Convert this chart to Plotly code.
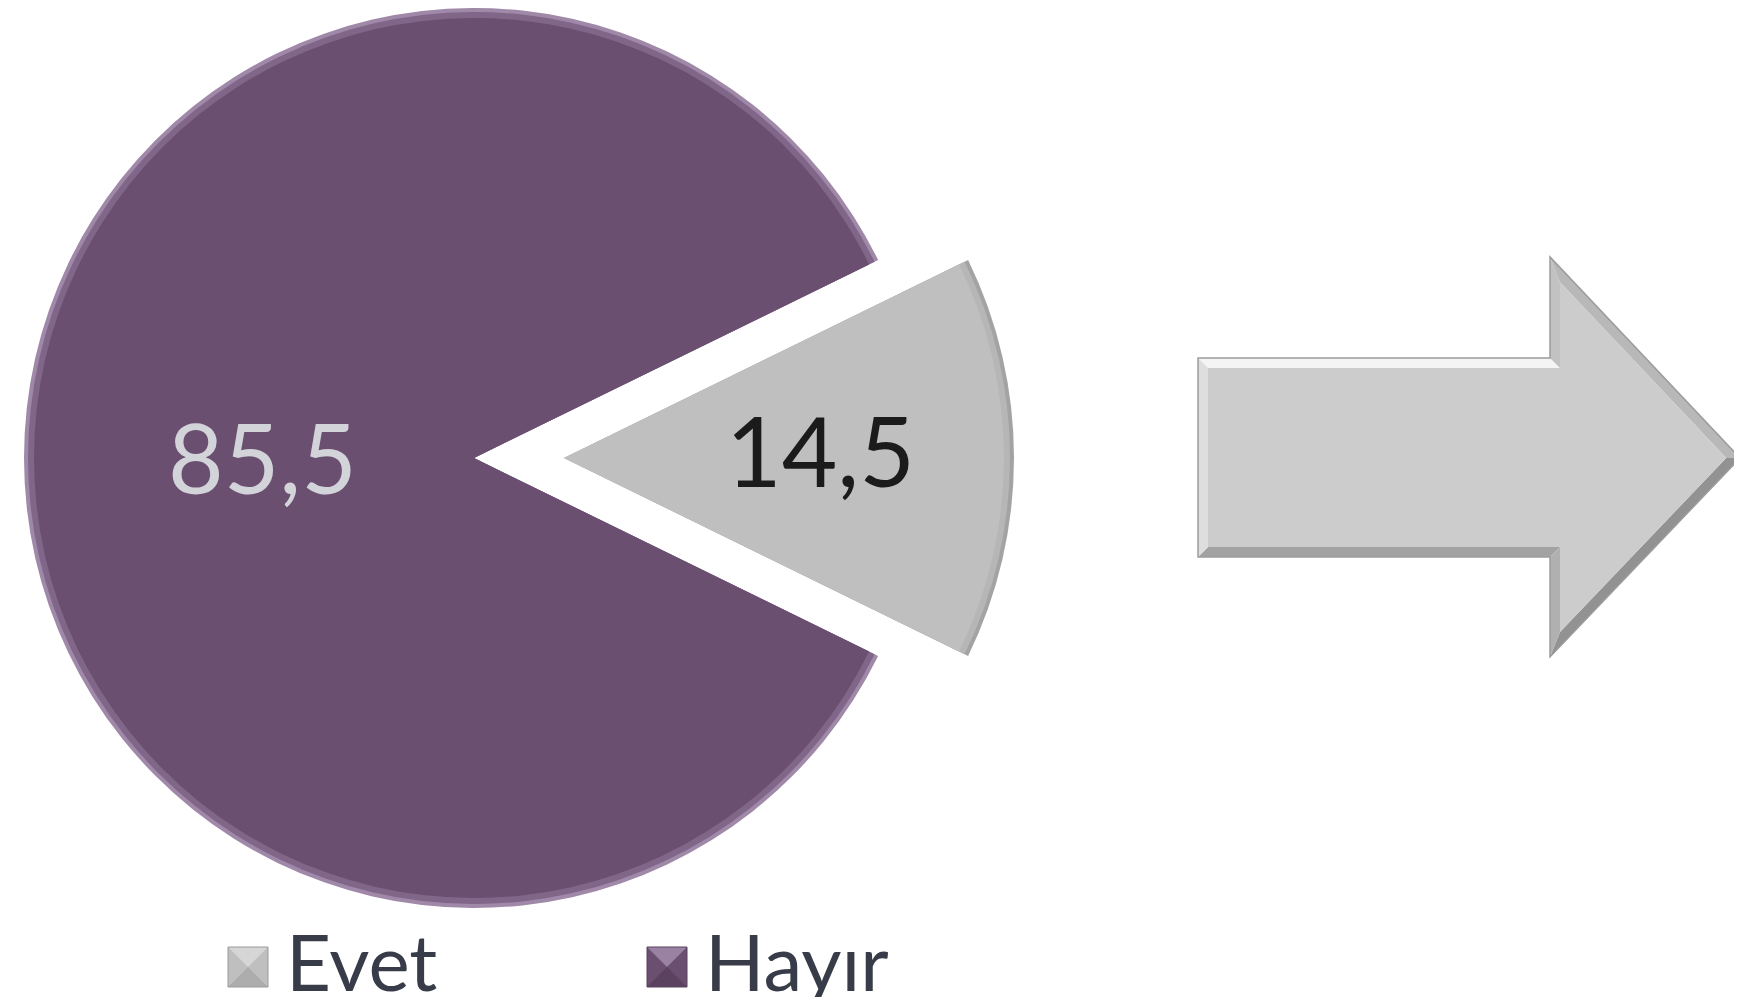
import math
import numpy as np
import plotly.graph_objects as go

# ---------------- data ----------------
categories = ["Evet", "Hayır"]
values = [14.5, 85.5]
slice_colors = ["#bfbfbf", "#6a4f70"]
rim_colors = [["#a3a3a3", "#b6b6b6"], ["#a088a9", "#806688"]]
label_colors = ["#1b1b1b", "#d3d3da"]

# ---------------- geometry / style (screen pixels) ----------------
W, H = 1742, 1005          # browser window
OFF = 8                    # body margin of the html page
FW, FH = W - 2 * OFF, H - 2 * OFF
R = 450                    # pie radius
CX, CY = 474, 458          # pie centre
EXPLODE = 90               # pull of the "Evet" slice
LABEL_R = [0.57, 0.47]     # label distance from slice apex (fraction of R)
LABEL_DY = [-8, -2]        # vertical nudge of the labels
FONT = "Lato"

total = sum(values)
rotation = 90 - values[0] / total * 360 / 2


def px(x, y):
    return (x - OFF) / FW, 1 - (y - OFF) / FH


def px_dom(cx, cy, r):
    x0, y1 = px(cx - r, cy - r)
    x1, y0 = px(cx + r, cy + r)
    return dict(x=[x0, x1], y=[y0, y1])


fig = go.Figure()
annotations = []

start = rotation
for i, cat in enumerate(categories):
    frac = values[i] / total
    mid = math.radians(start + frac * 360 / 2)
    start += frac * 360
    pull = EXPLODE if i == 0 else 0
    cx = CX + pull * math.sin(mid)
    cy = CY - pull * math.cos(mid)
    layers = [(0, rim_colors[i][0]), (4, rim_colors[i][1]), (10, slice_colors[i])]
    for shrink, col in layers:
        colors = [col if j == i else "rgba(0,0,0,0)" for j in range(len(values))]
        fig.add_trace(go.Pie(
            labels=categories,
            values=values,
            sort=False,
            direction="clockwise",
            rotation=rotation,
            marker=dict(colors=colors, line=dict(width=0)),
            textinfo="none",
            domain=px_dom(cx, cy, R - shrink),
            showlegend=False,
            hoverinfo="label+value",
        ))
    lx = cx + LABEL_R[i] * R * math.sin(mid)
    ly = cy - LABEL_R[i] * R * math.cos(mid)
    ax, ay = px(lx, ly + LABEL_DY[i])
    annotations.append(dict(
        xref="paper", yref="paper", x=ax, y=ay, xanchor="center", yanchor="middle",
        showarrow=False, text=f"{values[i]:.1f}".replace(".", ","),
        font=dict(family=FONT, size=96, color=label_colors[i]),
    ))

# ---------------- decorative block arrow with bevel ----------------
outer = np.array([(1198, 358), (1550, 358), (1550, 257), (1740, 458),
                  (1550, 657), (1550, 557), (1198, 557)], dtype=float)


def inset(poly, d):
    n = len(poly)
    lines = []
    for k in range(n):
        a, b = poly[k], poly[(k + 1) % n]
        t = (b - a) / np.linalg.norm(b - a)
        nrm = np.array([-t[1], t[0]])
        lines.append((a + nrm * d, t))
    res = []
    for k in range(n):
        p1, t1 = lines[k - 1]
        p2, t2 = lines[k]
        A = np.array([t1, -t2]).T
        s = np.linalg.solve(A, p2 - p1)
        res.append(p1 + t1 * s[0])
    return np.array(res)


inner = inset(outer, 10)
edge_cols = ["#f4f4f4", "#c2c2c2", "#b8b8b8", "#929292", "#b0b0b0", "#a2a2a2", "#dedede"]


def path_of(pts):
    pp = [px(x, y) for x, y in pts]
    return "M " + " L ".join(f"{x:.5f},{y:.5f}" for x, y in pp) + " Z"


shapes = []
n = len(outer)
for k in range(n):
    quad = [outer[k], outer[(k + 1) % n], inner[(k + 1) % n], inner[k]]
    shapes.append(dict(type="path", xref="paper", yref="paper", path=path_of(quad),
                       fillcolor=edge_cols[k], line=dict(width=0), layer="below"))
shapes.append(dict(type="path", xref="paper", yref="paper", path=path_of(inner),
                   fillcolor="#cccccc", line=dict(width=0), layer="below"))
shapes.append(dict(type="path", xref="paper", yref="paper", path=path_of(outer),
                   fillcolor="rgba(0,0,0,0)", line=dict(color="#9c9c9c", width=1.5), layer="below"))

# ---------------- legend (large symbols, drawn manually) ----------------
legend_x = [228, 647]
legend_y = 967
box = 40
legend_cols = [["#d6d6d6", "#adadad"], ["#9a82a3", "#5b4261"]]
for i, cat in enumerate(categories):
    x0 = legend_x[i]
    xa, ya = px(x0, legend_y - box / 2)
    xb, yb = px(x0 + box, legend_y + box / 2)
    xm, ym = px(x0 + box / 2, legend_y)
    shapes.append(dict(type="rect", xref="paper", yref="paper", x0=xa, x1=xb, y0=yb, y1=ya,
                       fillcolor=slice_colors[i], line=dict(width=0)))
    shapes.append(dict(type="path", xref="paper", yref="paper",
                       path=f"M {xa},{ya} L {xb},{ya} L {xm},{ym} Z",
                       fillcolor=legend_cols[i][0], line=dict(width=0)))
    shapes.append(dict(type="path", xref="paper", yref="paper",
                       path=f"M {xa},{yb} L {xb},{yb} L {xm},{ym} Z",
                       fillcolor=legend_cols[i][1], line=dict(width=0)))
    shapes.append(dict(type="rect", xref="paper", yref="paper", x0=xa, x1=xb, y0=yb, y1=ya,
                       fillcolor="rgba(0,0,0,0)", line=dict(color="#9a9a9a" if i == 0 else "#5a4260", width=1)))
    tx, ty = px(x0 + box + 16, legend_y - 6)
    annotations.append(dict(xref="paper", yref="paper", x=tx, y=ty,
                            xanchor="left", yanchor="middle", showarrow=False, text=cat,
                            font=dict(family=FONT, size=78, color="#383c48")))

fig.update_layout(
    width=FW, height=FH, autosize=False,
    margin=dict(l=0, r=0, t=0, b=0),
    paper_bgcolor="white", plot_bgcolor="white",
    separators=",.",
    shapes=shapes,
    annotations=annotations,
    showlegend=False,
)

fig.write_html("out.html")
